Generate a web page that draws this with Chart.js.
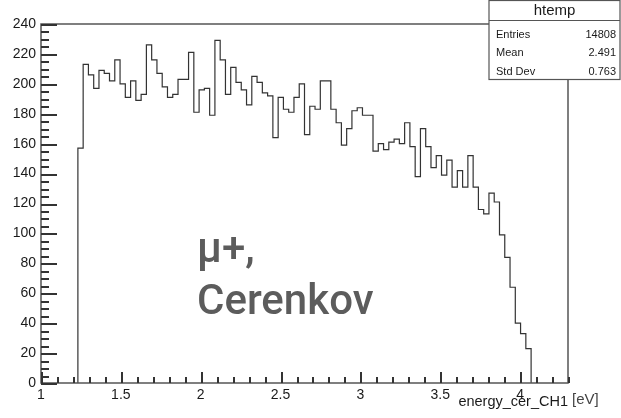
<!DOCTYPE html>
<html>
<head>
<meta charset="utf-8">
<title>energy_cer_CH1</title>
<script src="https://cdn.jsdelivr.net/npm/chart.js@4.4.1/dist/chart.umd.min.js"></script>
<style>
  html, body { margin: 0; padding: 0; background: #ffffff; }
  canvas { display: block; }
</style>
</head>
<body>
<canvas id="energyChart" width="621" height="418"></canvas>
<script>
// htemp: 100 bins from 1 to 4.3 eV, only bins 7..92 hold entries
const xMin = 1;
const xMax = 4.3;
const nBins = 100;
const firstBin = 7;

const binCounts = [
  157, 213, 206, 197, 209, 207, 202, 216, 200, 191,
  202, 189, 193, 226, 216, 207, 198, 191, 193, 203,
  203, 221, 181, 196, 197, 179, 229, 216, 193, 211,
  201, 196, 186, 205, 201, 194, 192, 164, 191, 183,
  181, 191, 200, 166, 185, 183, 202, 202, 183, 174,
  159, 170, 182, 184, 179, 179, 155, 160, 156, 161,
  163, 160, 174, 158, 138, 170, 158, 144, 152, 139,
  149, 131, 142, 131, 152, 131, 116, 113, 127, 121,
  99, 84, 64, 40, 33, 23
];

const xTicks = [1, 1.5, 2, 2.5, 3, 3.5, 4];
const yTicks = [0, 20, 40, 60, 80, 100, 120, 140, 160, 180, 200, 220, 240];
const yMax = 240;
const xMinorStep = 0.1;
const yMinorStep = 5;

const statsTitle = 'htemp';
const statsLabels = ['Entries', 'Mean', 'Std Dev'];
const statsValues = ['14808', '2.491', '0.763'];

const axisTitle = 'energy_cer_CH1';
const axisUnit = '[eV]';
const noteLines = ['μ+,', 'Cerenkov'];

// Step outline: one point per bin low edge, closed down to zero on both sides
const binWidth = (xMax - xMin) / nBins;
const outline = [{ x: xMin + firstBin * binWidth, y: 0 }];
binCounts.forEach((c, i) => {
  outline.push({ x: xMin + (firstBin + i) * binWidth, y: c });
});
outline.push({ x: xMin + (firstBin + binCounts.length) * binWidth, y: 0 });

const labelFont = { family: 'Liberation Sans', size: 14 };

// Frame, stats box and the text overlays
const rootFrame = {
  id: 'rootFrame',
  afterDraw(chart) {
    const c = chart.ctx;
    const a = chart.chartArea;
    c.save();

    // frame
    c.strokeStyle = '#555555';
    c.lineWidth = 1.5;
    c.strokeRect(a.left, a.top, a.right - a.left, a.bottom - a.top);

    // axis title with unit
    c.fillStyle = '#1a1a1a';
    c.font = '14.5px "Liberation Sans"';
    c.textAlign = 'right';
    c.textBaseline = 'alphabetic';
    c.fillText(axisTitle, a.right, 406);
    c.fillStyle = '#444444';
    c.font = '15px "Liberation Sans"';
    c.textAlign = 'left';
    c.fillText(axisUnit, a.right + 4, 404);

    // stats box
    const bx = 489, by = 0.5, bw = 131, bh = 79;
    c.fillStyle = '#ffffff';
    c.fillRect(bx, by, bw, bh);
    c.strokeStyle = '#555555';
    c.lineWidth = 1.2;
    c.strokeRect(bx, by, bw, bh);
    c.beginPath();
    c.moveTo(bx, 20.5);
    c.lineTo(bx + bw, 20.5);
    c.stroke();

    c.fillStyle = '#1a1a1a';
    c.textBaseline = 'middle';
    c.textAlign = 'center';
    c.font = '15px "Liberation Sans"';
    c.fillText(statsTitle, bx + bw / 2, 10.5);
    c.font = '11px "Liberation Sans"';
    statsLabels.forEach((lab, i) => {
      const ty = 35 + i * 18.3;
      c.textAlign = 'left';
      c.fillText(lab, bx + 7, ty);
      c.textAlign = 'right';
      c.fillText(statsValues[i], bx + bw - 4, ty);
    });

    // particle / process note
    c.fillStyle = '#5c5c5c';
    c.font = '500 42px Roboto';
    c.textAlign = 'left';
    c.textBaseline = 'alphabetic';
    c.fillText(noteLines[0], 197, 262);
    c.fillText(noteLines[1], 197, 314);

    c.restore();
  }
};

// Inward ROOT-style ticks: majors every 0.5 / 20, minors every 0.1 / 5
const inwardTicks = {
  id: 'inwardTicks',
  afterDraw(chart) {
    const c = chart.ctx;
    const a = chart.chartArea;
    const xs = chart.scales.x;
    const ys = chart.scales.y;
    c.save();
    c.fillStyle = '#333333';
    const nx = Math.round((xMax - xMin) / xMinorStep);
    for (let i = 0; i <= nx; i++) {
      const v = xMin + i * xMinorStep;
      const major = Math.abs(v * 2 - Math.round(v * 2)) < 1e-6;
      const len = major ? 11 : 6;
      const px = Math.round(xs.getPixelForValue(v));
      c.fillRect(px, a.bottom - len, 2, len);
    }
    const ny = Math.round(yMax / yMinorStep);
    for (let i = 0; i <= ny; i++) {
      const v = i * yMinorStep;
      const len = v % 20 === 0 ? 16 : 8;
      const py = Math.round(ys.getPixelForValue(v));
      c.fillRect(a.left, py, len, 2);
    }
    c.restore();
  }
};

const ctx = document.getElementById('energyChart').getContext('2d');

new Chart(ctx, {
  type: 'line',
  data: {
    datasets: [{
      data: outline,
      stepped: 'before',
      borderColor: '#333333',
      borderWidth: 1.2,
      pointRadius: 0,
      fill: false,
      tension: 0
    }]
  },
  options: {
    responsive: false,
    animation: false,
    devicePixelRatio: 1,
    layout: { padding: { top: 24, right: 53, bottom: 0, left: 0 } },
    plugins: {
      legend: { display: false },
      tooltip: { enabled: false },
      title: { display: false }
    },
    scales: {
      x: {
        type: 'linear',
        min: xMin,
        max: xMax,
        grid: { display: false, drawTicks: false },
        border: { display: false },
        ticks: {
          font: labelFont,
          color: '#1a1a1a',
          padding: 4,
          maxRotation: 0,
          autoSkip: false,
          callback: v => String(v)
        },
        afterBuildTicks: s => { s.ticks = xTicks.map(v => ({ value: v })); },
        afterFit: s => { s.height = 35; }
      },
      y: {
        type: 'linear',
        min: 0,
        max: yMax,
        grid: { display: false, drawTicks: false },
        border: { display: false },
        ticks: {
          font: labelFont,
          color: '#1a1a1a',
          padding: 5,
          autoSkip: false,
          callback: v => String(v)
        },
        afterBuildTicks: s => { s.ticks = yTicks.map(v => ({ value: v })); },
        afterFit: s => { s.width = 41; }
      }
    }
  },
  plugins: [rootFrame, inwardTicks]
});
</script>
</body>
</html>
